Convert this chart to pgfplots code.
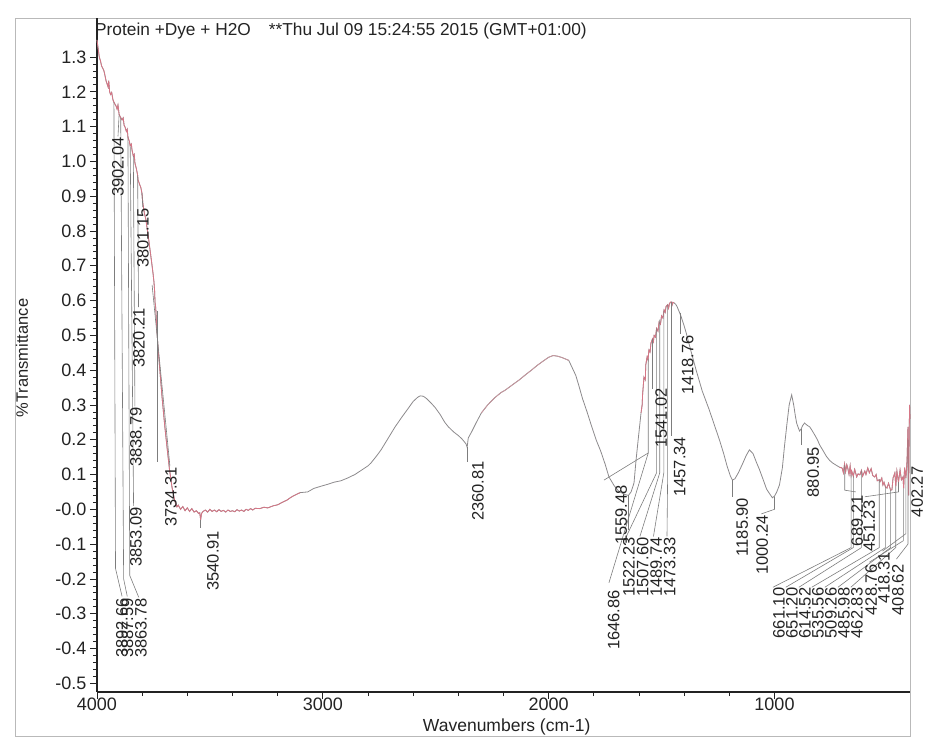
\documentclass[border=0pt]{standalone}
\usepackage{pgfplots}
\pgfplotsset{compat=1.18}
\usepackage{pgfplotstable}
\usepackage{fontspec}
\setmainfont{Liberation Sans}
\definecolor{specgray}{RGB}{140,138,140}
\definecolor{specpink}{RGB}{214,118,134}
\definecolor{speclight}{RGB}{200,150,158}
\definecolor{leader}{RGB}{125,125,125}
\definecolor{ink}{RGB}{35,35,35}

\pgfplotstableread{
w y
4000 1.349
3995 1.325
3990 1.300
3985 1.290
3980 1.275
3975 1.268
3970 1.262
3965 1.248
3960 1.232
3955 1.222
3951 1.214
3948 1.232
3944 1.200
3940 1.192
3935 1.198
3929 1.176
3922 1.166
3915 1.158
3911 1.150
3907 1.162
3902 1.135
3896 1.127
3889 1.119
3884 1.125
3880 1.104
3876 1.099
3870 1.086
3866 1.092
3863 1.070
3857 1.058
3853 1.045
3848 1.050
3845 1.033
3839 1.015
3835 1.020
3832 0.995
3825 0.977
3820 0.960
3818 0.947
3812 0.935
3806 0.925
3801 0.909
3797 0.880
3790 0.850
3784 0.835
3779 0.812
3772 0.780
3765 0.745
3758 0.710
3752 0.679
3748 0.655
3745 0.630
3743 0.595
3740 0.580
3736 0.530
3730 0.467
3721 0.395
3712 0.323
3700 0.240
3690 0.179
3679 0.115
3668 0.064
3656 0.025
3646 0.007
3640 0.012
3630 0.000
3620 0.008
3610 -0.004
3600 0.004
3590 -0.006
3580 0.002
3570 -0.008
3560 -0.004
3550 -0.012
3545 -0.010
3541 -0.030
3537 -0.012
3530 -0.006
3520 -0.002
3510 -0.008
3500 0.000
3490 -0.006
3480 -0.002
3470 -0.007
3460 -0.001
3450 -0.006
3440 -0.003
3430 -0.008
3420 -0.002
3410 -0.006
3400 -0.004
3390 -0.007
3380 -0.001
3370 -0.005
3360 -0.002
3350 -0.006
3340 0.000
3330 -0.003
3320 0.002
3310 -0.002
3300 0.003
3280 0.002
3260 0.006
3244 0.004
3220 0.010
3200 0.013
3180 0.020
3160 0.026
3140 0.035
3120 0.042
3100 0.048
3067 0.050
3040 0.060
3010 0.066
2978 0.072
2950 0.078
2920 0.082
2890 0.090
2858 0.100
2830 0.112
2800 0.125
2787 0.133
2760 0.155
2742 0.171
2710 0.205
2680 0.237
2650 0.265
2622 0.290
2600 0.310
2580 0.322
2569 0.326
2555 0.325
2540 0.318
2520 0.305
2502 0.292
2480 0.272
2460 0.250
2444 0.237
2420 0.222
2400 0.212
2385 0.203
2372 0.193
2366 0.188
2361 0.178
2356 0.205
2340 0.224
2320 0.250
2298 0.277
2270 0.300
2240 0.320
2210 0.336
2191 0.343
2160 0.358
2130 0.372
2100 0.388
2076 0.400
2050 0.414
2020 0.428
2000 0.437
1980 0.442
1960 0.440
1940 0.436
1911 0.428
1898 0.410
1880 0.385
1867 0.357
1850 0.318
1830 0.280
1809 0.237
1790 0.200
1770 0.168
1750 0.130
1733 0.093
1710 0.068
1690 0.052
1676 0.047
1660 0.042
1647 0.040
1635 0.050
1622 0.076
1613 0.142
1602 0.210
1591 0.277
1586 0.300
1584 0.330
1578 0.380
1572 0.372
1570 0.415
1564 0.438
1560 0.430
1556 0.458
1551 0.452
1547 0.478
1540 0.490
1536 0.482
1533 0.500
1527 0.495
1522 0.520
1516 0.512
1511 0.538
1505 0.532
1500 0.556
1494 0.550
1489 0.573
1484 0.566
1480 0.583
1473 0.588
1469 0.578
1465 0.592
1458 0.596
1454 0.586
1450 0.595
1444 0.593
1437 0.589
1431 0.582
1422 0.568
1413 0.553
1400 0.527
1391 0.507
1370 0.455
1347 0.400
1320 0.340
1289 0.286
1265 0.240
1244 0.200
1225 0.160
1209 0.122
1195 0.095
1186 0.084
1175 0.088
1160 0.105
1142 0.130
1125 0.155
1111 0.171
1095 0.160
1080 0.135
1067 0.115
1050 0.085
1035 0.058
1022 0.045
1009 0.033
998 0.040
990 0.050
978 0.070
965 0.120
956 0.180
945 0.245
935 0.300
924 0.329
915 0.300
908 0.270
902 0.248
895 0.235
889 0.225
881 0.232
876 0.240
867 0.248
860 0.244
852 0.240
844 0.237
835 0.228
822 0.214
810 0.200
800 0.185
787 0.171
770 0.152
755 0.140
742 0.133
725 0.126
712 0.121
702 0.119
700 0.118
695 0.105
690 0.130
685 0.108
680 0.128
676 0.120
670 0.100
665 0.125
661 0.098
658 0.110
651 0.095
645 0.115
636 0.093
630 0.102
622 0.099
615 0.112
610 0.095
600 0.110
595 0.100
587 0.119
580 0.105
572 0.117
565 0.097
556 0.093
550 0.100
545 0.082
536 0.085
533 0.079
525 0.090
520 0.070
515 0.078
509 0.065
502 0.061
495 0.075
486 0.055
480 0.056
475 0.090
467 0.105
463 0.065
458 0.110
451 0.078
444 0.113
438 0.085
431 0.093
428 0.060
424 0.120
418 0.090
413 0.142
409 0.237
406 0.040
404 0.180
402 0.300
400 0.260
}\spectrum

\tikzset{pk/.style={rotate=90, inner sep=0pt, text=ink, font=\fontsize{16.5bp}{18bp}\selectfont},
  ld/.style={draw=leader, line width=0.6bp}}

\begin{document}
\begin{tikzpicture}
\path[use as bounding box] (0,0) rectangle (925bp,740bp);
\draw[gray!55, line width=0.8bp] (15bp,4bp) rectangle (910bp,722bp);
\begin{axis}[
  at={(97bp,48bp)}, anchor=south west,
  scale only axis, width=813bp, height=674bp,
  x dir=reverse, xmin=400, xmax=4000, ymin=-0.525, ymax=1.412,
  axis x line*=bottom, axis y line*=left,
  axis line style={ink, line width=1.1bp},
  clip=false,
  tick align=outside,
  major tick length=7bp, minor tick length=4bp,
  every tick/.style={ink, line width=0.7bp},
  xtick={4000,3000,2000,1000}, xticklabels={4000,3000,2000,1000},
  minor x tick num=4,
  ytick={-0.5,-0.4,-0.3,-0.2,-0.1,0,0.1,0.2,0.3,0.4,0.5,0.6,0.7,0.8,0.9,1.0,1.1,1.2,1.3},
  yticklabels={-0.5,-0.4,-0.3,-0.2,-0.1,-0.0,0.1,0.2,0.3,0.4,0.5,0.6,0.7,0.8,0.9,1.0,1.1,1.2,1.3},
  minor y tick num=4,
  ticklabel style={text=ink, font=\fontsize{18bp}{20bp}\selectfont},
  xticklabel style={yshift=5bp},
  xlabel={Wavenumbers (cm-1)},
  xlabel style={at={(axis description cs:0.504,-0.0515)}, anchor=center, text=ink, font=\fontsize{17.5bp}{19bp}\selectfont},
  ylabel={\%Transmittance},
  ylabel style={at={(axis description cs:-0.0923,0.4955)}, anchor=center, text=ink, font=\fontsize{16.5bp}{18bp}\selectfont},
]
\addplot[specgray, line width=0.8bp] table[x=w,y=y] {\spectrum};
\addplot[specpink, line width=0.8bp, restrict x to domain=3640:4000] table[x=w,y=y] {\spectrum};
\addplot[specpink, line width=0.8bp, restrict x to domain=3100:3646] table[x=w,y=y] {\spectrum};
\addplot[speclight, line width=0.8bp, restrict x to domain=1900:2300] table[x=w,y=y] {\spectrum};
\addplot[specpink, line width=0.8bp, restrict x to domain=1440:1600] table[x=w,y=y] {\spectrum};
\addplot[specpink, line width=0.8bp, restrict x to domain=400:720] table[x=w,y=y] {\spectrum};

% leader lines
\draw[ld] (axis cs:3925,1.17) -- (axis cs:3918,-0.17) -- (axis cs:3889,-0.25);
\draw[ld] (axis cs:3895,1.125) -- (axis cs:3882,-0.20) -- (axis cs:3866,-0.25);
\draw[ld] (axis cs:3863,1.07) -- (axis cs:3855,-0.19) -- (axis cs:3815,-0.253);
\draw[ld] (axis cs:3853,1.045) -- (axis cs:3838,0.01);
\draw[ld] (axis cs:3839,1.015) -- (axis cs:3832,0.296);
\draw[ld] (axis cs:3820,0.96) -- (axis cs:3816,0.581);
\draw[ld] (axis cs:3801,0.909) -- (axis cs:3797,0.868);
\draw[ld] (axis cs:3902,1.135) -- (axis cs:3907,1.072);
\draw[ld] (axis cs:3734,0.57) -- (axis cs:3734,0.136);
\draw[ld] (axis cs:3756,0.645) -- (axis cs:3677,0.124);
\draw[ld] (axis cs:3541,-0.030) -- (axis cs:3541,-0.055);
\draw[ld] (axis cs:2361,0.178) -- (axis cs:2361,0.136);
\draw[ld] (axis cs:1559,0.432) -- (axis cs:1559,0.162) -- (axis cs:1755,0.084);
\draw[ld] (axis cs:1559,0.162) -- (axis cs:1733,-0.211);
\draw[ld] (axis cs:1647,0.040) -- (axis cs:1647,-0.059);
\draw[ld] (axis cs:1522,0.520) -- (axis cs:1522,0.105) -- (axis cs:1656,-0.078);
\draw[ld] (axis cs:1508,0.545) -- (axis cs:1508,0.105) -- (axis cs:1596,-0.078);
\draw[ld] (axis cs:1490,0.572) -- (axis cs:1490,0.105) -- (axis cs:1536,-0.078);
\draw[ld] (axis cs:1473,0.588) -- (axis cs:1473,0.105) -- (axis cs:1476,-0.078);
\draw[ld] (axis cs:1541,0.490) -- (axis cs:1541,0.345);
\draw[ld] (axis cs:1457,0.596) -- (axis cs:1457,0.212);
\draw[ld] (axis cs:1419,0.565) -- (axis cs:1419,0.505);
\draw[ld] (axis cs:1186,0.084) -- (axis cs:1186,0.036);
\draw[ld] (axis cs:1000,0.037) -- (axis cs:1000,0.0) -- (axis cs:1058,-0.013);
\draw[ld] (axis cs:881,0.232) -- (axis cs:881,0.185);
\draw[ld] (axis cs:689,0.128) -- (axis cs:689,0.055) -- (axis cs:640,0.05);
\draw[ld] (axis cs:451,0.078) -- (axis cs:451,0.05) -- (axis cs:600,0.036);
\draw[ld] (axis cs:661,0.098) -- (axis cs:661,-0.11) -- (axis cs:1007,-0.224);
\draw[ld] (axis cs:651,0.095) -- (axis cs:651,-0.11) -- (axis cs:950,-0.224);
\draw[ld] (axis cs:615,0.112) -- (axis cs:615,-0.11) -- (axis cs:892,-0.224);
\draw[ld] (axis cs:536,0.085) -- (axis cs:536,-0.11) -- (axis cs:835,-0.224);
\draw[ld] (axis cs:509,0.065) -- (axis cs:509,-0.11) -- (axis cs:777,-0.224);
\draw[ld] (axis cs:486,0.055) -- (axis cs:486,-0.11) -- (axis cs:719,-0.224);
\draw[ld] (axis cs:463,0.065) -- (axis cs:463,-0.11) -- (axis cs:662,-0.224);
\draw[ld] (axis cs:429,0.060) -- (axis cs:429,-0.09) -- (axis cs:580,-0.152);
\draw[ld] (axis cs:418,0.090) -- (axis cs:418,-0.07) -- (axis cs:522,-0.12);
\draw[ld] (axis cs:409,0.20) -- (axis cs:409,-0.10) -- (axis cs:460,-0.143);

% peak labels
\node[pk] at (axis cs:3907,0.984) {3902.04};
\node[pk] at (axis cs:3796,0.780) {3801.15};
\node[pk] at (axis cs:3814,0.493) {3820.21};
\node[pk] at (axis cs:3827,0.208) {3838.79};
\node[pk] at (axis cs:3827,-0.079) {3853.09};
\node[pk] at (axis cs:3889,-0.341) {3892.66};
\node[pk] at (axis cs:3865,-0.341) {3887.59};
\node[pk] at (axis cs:3805,-0.341) {3863.78};
\node[pk] at (axis cs:3672,0.036) {3734.31};
\node[pk] at (axis cs:3486,-0.148) {3540.91};
\node[pk] at (axis cs:2313,0.053) {2360.81};
\node[pk] at (axis cs:1712,-0.318) {1646.86};
\node[pk] at (axis cs:1679,-0.016) {1559.48};
\node[pk] at (axis cs:1644,-0.166) {1522.23};
\node[pk] at (axis cs:1584,-0.166) {1507.60};
\node[pk] at (axis cs:1524,-0.166) {1489.74};
\node[pk] at (axis cs:1464,-0.166) {1473.33};
\node[pk] at (axis cs:1502,0.263) {1541.02};
\node[pk] at (axis cs:1420,0.122) {1457.34};
\node[pk] at (axis cs:1384,0.415) {1418.76};
\node[pk] at (axis cs:1143,-0.051) {1185.90};
\node[pk] at (axis cs:1055,-0.102) {1000.24};
\node[pk] at (axis cs:829,0.107) {880.95};
\node[pk] at (axis cs:634,-0.033) {689.21};
\node[pk] at (axis cs:581,-0.048) {451.23};
\node[pk] at (axis cs:980,-0.298) {661.10};
\node[pk] at (axis cs:923,-0.298) {651.20};
\node[pk] at (axis cs:865,-0.298) {614.52};
\node[pk] at (axis cs:808,-0.298) {535.56};
\node[pk] at (axis cs:750,-0.298) {509.26};
\node[pk] at (axis cs:692,-0.298) {485.98};
\node[pk] at (axis cs:635,-0.298) {462.83};
\node[pk] at (axis cs:572,-0.232) {428.76};
\node[pk] at (axis cs:515,-0.197) {418.31};
\node[pk] at (axis cs:453,-0.232) {408.62};
\node[pk] at (axis cs:368,0.050) {402.27};

\node[anchor=west, inner sep=0pt, text=ink, font=\fontsize{17.3bp}{19bp}\selectfont]
  at (axis description cs:-0.0025,0.9807) {Protein +Dye + H2O\hspace{18bp}**Thu Jul 09 15:24:55 2015 (GMT+01:00)};
\end{axis}
\end{tikzpicture}
\end{document}
